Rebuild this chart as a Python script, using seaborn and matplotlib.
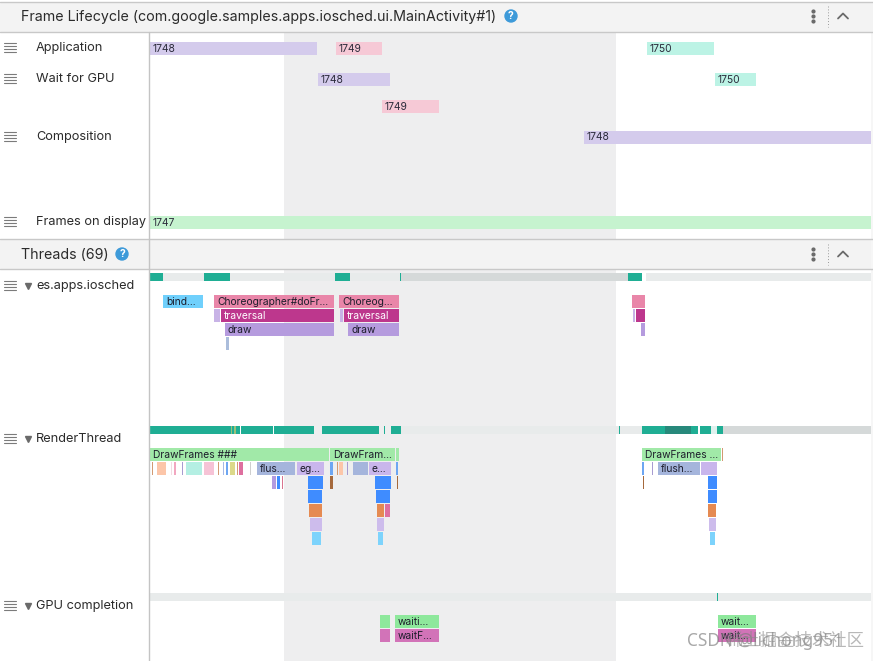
"""
Android Studio profiler style timeline: frame lifecycle and thread slices
"""
import matplotlib
matplotlib.use('Agg')
import matplotlib.pyplot as plt
import pandas as pd
import seaborn as sns
from matplotlib.patches import Circle, Rectangle

# Frame lifecycle
frame_rows = [48.5, 48.5, 48.5, 79.5, 79.5, 106.5, 137, 222.5]
frame_starts = [150, 336, 647, 318, 715, 382, 584, 150]
frame_ends = [317, 382, 714, 390, 756, 439, 871, 871]
frame_ids = ['1748', '1749', '1750', '1748', '1750', '1749', '1748', '1747']
frame_colors = {'1747': '#c6f3cf', '1748': '#d4cbec', '1749': '#f6c9d6', '1750': '#bcf3e5'}

# Thread state strips
main_state_starts = [150, 163, 204, 230, 335, 350, 400, 401, 628, 646]
main_state_ends = [163, 204, 230, 335, 350, 400, 401, 628, 642, 871]
main_state_kinds = ['run', 'sleep', 'run', 'sleep', 'run', 'sleep', 'run', 'idle', 'run', 'sleep']

render_state_starts = [150, 231, 232, 234, 236, 237, 241, 274, 322, 384, 391, 401, 619, 620, 642, 665, 691, 700, 711, 717, 723]
render_state_ends = [231, 232, 234, 236, 237, 240, 273, 314, 379, 385, 401, 619, 620, 642, 665, 691, 698, 711, 717, 723, 871]
render_state_kinds = ['run', 'olive', 'run', 'olive', 'run', 'run', 'run', 'run', 'run', 'run', 'run', 'sleep', 'run',
                      'sleep', 'run', 'dark', 'run', 'run', 'pale', 'run', 'idle']

gpu_state_starts = [150, 717, 718]
gpu_state_ends = [717, 718, 871]
gpu_state_kinds = ['sleep', 'run', 'sleep']

state_colors = {'run': '#1fae94', 'dark': '#27897b', 'olive': '#9cc07a', 'idle': '#d5d9d9',
                'sleep': '#e8ebeb', 'pale': '#dff1ee'}

# Slices for es.apps.iosched
main_depth = [0, 0, 0, 0, 1, 1, 1, 1, 1, 1, 2, 2, 2, 3]
main_starts = [163, 214, 339, 632, 214, 221, 340, 344, 633, 636, 225, 348, 641, 226]
main_ends = [203, 334, 399, 645, 220, 334, 343, 399, 635, 645, 334, 399, 645, 229]
main_labels = ['bind...', 'Choreographer#doFr...', 'Choreog...', '', '', 'traversal', '', 'traversal', '', '',
               'draw', 'draw', '', '']
main_kinds = ['binder', 'choreo', 'choreo', 'choreo', 'lilac', 'traversal', 'lilac', 'traversal', 'lilac', 'traversal',
              'draw', 'draw', 'draw', 'steel']

# Slices for RenderThread
render_depth = [0, 0, 0, 0, 0,
                1, 1, 1, 1, 1, 1, 1, 1, 1, 1, 1, 1, 1, 1, 1, 1, 1, 1, 1, 1, 1, 1, 1, 1, 1, 1, 1,
                2, 2, 2, 2, 2, 2, 2, 2, 2,
                3, 3, 3, 4, 4, 4, 4, 5, 5, 5, 6, 6, 6]
render_starts = [150, 330, 396, 642, 722,
                 152, 157, 171, 174, 182, 186, 204, 218, 223, 226, 230, 237, 239, 250, 257, 297,
                 330, 337, 339, 347, 353, 369, 396, 642, 652, 658, 701,
                 272, 277, 282, 308, 330, 375, 397, 643, 708,
                 308, 376, 708, 309, 377, 385, 708, 310, 377, 709, 312, 378, 710]
render_ends = [329, 395, 399, 721, 723,
               153, 166, 172, 176, 183, 202, 214, 219, 224, 228, 235, 238, 243, 251, 295, 324,
               333, 338, 343, 348, 368, 391, 398, 644, 653, 700, 717,
               276, 280, 283, 323, 333, 391, 398, 644, 717,
               322, 390, 717, 322, 384, 390, 716, 322, 384, 716, 321, 383, 715]
render_labels = ['DrawFrames ###', 'DrawFram...', '', 'DrawFrames ...', '',
                 '', '', '', '', '', '', '', '', '', '', '', '', '', '', 'flus...', 'eg...',
                 '', '', '', '', '', 'e...', '', '', '', 'flush...', '',
                 '', '', '', '', '', '', '', '', '',
                 '', '', '', '', '', '', '', '', '', '', '', '', '']
render_kinds = ['drawframes', 'drawframes', 'drawframes', 'drawframes', 'brown',
                'brown', 'peach', 'lightpink', 'pink', 'mauve', 'aqua', 'rose', 'brown', 'periwinkle', 'blue2', 'khaki',
                'brown', 'magenta', 'gray', 'flush', 'egl',
                'blue2', 'brown', 'peach', 'mauve', 'flush', 'egl', 'blue2', 'blue2', 'mauve', 'flush', 'egl',
                'lilac2', 'blue1', 'rose2', 'blue1', 'brown2', 'blue1', 'brown2', 'brown2', 'blue1',
                'blue1', 'blue1', 'blue1', 'orange', 'orange', 'magenta', 'orange', 'lilac3', 'lilac3', 'lilac3',
                'sky', 'sky', 'sky']

# Slices for GPU completion
gpu_depth = [0, 0, 0, 1, 1, 1]
gpu_starts = [380, 395, 718, 380, 395, 718]
gpu_ends = [390, 439, 756, 390, 439, 756]
gpu_labels = ['', 'waiti...', 'wait...', '', 'waitF...', 'wait...']
gpu_kinds = ['wait', 'wait', 'wait', 'waitf', 'waitf', 'waitf']

slice_colors = {
    'binder': '#70d0fc', 'choreo': '#e986a9', 'lilac': '#c8b3e6', 'traversal': '#bd378d', 'draw': '#b59bde',
    'steel': '#abbddb', 'drawframes': '#a1e9a8', 'brown': '#d29a72', 'peach': '#fcc6a9', 'lightpink': '#f3dbe4',
    'pink': '#f2a7c0', 'mauve': '#a89bd0', 'aqua': '#b4efe3', 'rose': '#f6c3d6', 'periwinkle': '#a7b9e6',
    'blue2': '#6da6f2', 'khaki': '#dcd98a', 'magenta': '#de6f9f', 'gray': '#cfcfcf', 'flush': '#a5b5dc',
    'egl': '#c9b6ec', 'lilac2': '#b39be0', 'blue1': '#3f8cff', 'rose2': '#d9748f', 'brown2': '#a5693c',
    'orange': '#e58a52', 'lilac3': '#cdbcec', 'sky': '#7dd3fc', 'wait': '#8ee89c', 'waitf': '#d273b8',
}

# Track labels
frame_track_labels = ['Application', 'Wait for GPU', 'Composition', 'Frames on display']
frame_track_rows = [47.5, 78.5, 136.5, 221.5]
thread_track_labels = ['es.apps.iosched', 'RenderThread', 'GPU completion']
thread_track_rows = [285, 438, 605]

SLICE_H = 13
UI_FONT = ['Inter', 'DejaVu Sans']


def draw_bar(ax, start, end, center, height, color):
    """One horizontal bar through seaborn."""
    sns.barplot(x=[end - start], y=[center], left=[start], orient='y', native_scale=True, width=height,
                color=color, saturation=1, linewidth=0, errorbar=None, legend=False, ax=ax, zorder=3)


def draw_states(ax, starts, ends, kinds, top):
    for start, end, kind in zip(starts, ends, kinds):
        draw_bar(ax, start, end, top + 4, 8, state_colors[kind])


def draw_slices(ax, depth, starts, ends, labels, kinds, base):
    df = pd.DataFrame({'depth': depth, 'start': starts, 'end': ends, 'label': labels, 'kind': kinds})
    for row in df.itertuples():
        center = base + row.depth * 14 + SLICE_H / 2
        draw_bar(ax, row.start, row.end, center, SLICE_H, slice_colors[row.kind])
        if row.label:
            text_color = 'white' if row.kind == 'traversal' else '#1d1d2b'
            ax.text(row.start + 3, center + 0.5, row.label, color=text_color, fontsize=7.4, va='center', ha='left',
                    family=UI_FONT, zorder=4)


def draw_hamburger(ax, y):
    for offset in [-4.5, -1.5, 1.5, 4.5]:
        ax.plot([4, 16], [y + offset, y + offset], color='#7b7b7b', lw=0.8, zorder=5)


def draw_help(ax, x, y):
    ax.add_patch(Circle((x, y), 6, color='#3d9ad9', zorder=5))
    ax.text(x, y + 0.3, '?', color='white', fontsize=7.5, weight='bold', ha='center', va='center', zorder=6)


def draw_header_icons(ax, y):
    for offset in [-5, 0, 5]:
        ax.plot([813], [y + offset], 'o', ms=2, color='#6a6a6a', zorder=5)
    ax.plot([828, 828], [y - 10, y + 11], color='#9a9a9a', lw=0.7, ls=(0, (1, 2)), zorder=5)
    ax.plot([838, 843, 848], [y + 2.5, y - 2.5, y + 2.5], color='#6a6a6a', lw=1.3, zorder=5)


def main():
    sns.set_theme(style='white')
    plt.rcParams['font.family'] = UI_FONT

    fig = plt.figure(figsize=(8.73, 6.61), dpi=100)
    ax = fig.add_axes([0, 0, 1, 1])

    # Selection band and header strips
    ax.add_patch(Rectangle((284, 32), 332, 207, color='#eeeeef', lw=0, zorder=1))
    ax.add_patch(Rectangle((284, 269), 332, 392, color='#eeeeef', lw=0, zorder=1))
    ax.add_patch(Rectangle((0, 2), 873, 30, color='#f3f3f3', lw=0, zorder=2))
    ax.add_patch(Rectangle((0, 239), 873, 30, color='#f3f3f3', lw=0, zorder=2))
    ax.add_patch(Rectangle((871, 32), 2, 629, color='#f6f6f6', lw=0, zorder=2))
    for y in [1.5, 32, 238.8, 269]:
        ax.plot([0, 873], [y, y], color='#c8c8c8', lw=1.0, zorder=3)
    ax.plot([149, 149], [32, 661], color='#c4c4c4', lw=1.0, zorder=5)

    ax.text(21, 17, 'Frame Lifecycle (com.google.samples.apps.iosched.ui.MainActivity#1)', fontsize=10.25,
            color='#2b2b2b', va='center', zorder=5)
    ax.text(21, 255, 'Threads (69)', fontsize=10.25, color='#2b2b2b', va='center', zorder=5)
    draw_help(ax, 511, 16)
    draw_help(ax, 122, 254)
    draw_header_icons(ax, 16)
    draw_header_icons(ax, 254)

    # Frame lifecycle bars
    for row, start, end, frame in zip(frame_rows, frame_starts, frame_ends, frame_ids):
        draw_bar(ax, start, end, row, SLICE_H, frame_colors[frame])
        ax.text(start + 3, row + 0.5, frame, fontsize=7.4, color='#2a2a3a', va='center', zorder=4)

    for label, y in zip(frame_track_labels, frame_track_rows):
        draw_hamburger(ax, y)
        ax.text(36, y + 0.5, label, fontsize=9.2, color='#2b2b2b', va='center', zorder=5)

    for label, y in zip(thread_track_labels, thread_track_rows):
        draw_hamburger(ax, y)
        ax.plot([28], [y + 0.5], marker='v', ms=5, color='#6a6a6a', zorder=5)
        ax.text(36, y + 0.5, label, fontsize=9.2, color='#2b2b2b', va='center', zorder=5)

    # Threads
    draw_states(ax, main_state_starts, main_state_ends, main_state_kinds, 273)
    draw_states(ax, render_state_starts, render_state_ends, render_state_kinds, 426)
    draw_states(ax, gpu_state_starts, gpu_state_ends, gpu_state_kinds, 593)

    draw_slices(ax, main_depth, main_starts, main_ends, main_labels, main_kinds, 295)
    draw_slices(ax, render_depth, render_starts, render_ends, render_labels, render_kinds, 448)
    draw_slices(ax, gpu_depth, gpu_starts, gpu_ends, gpu_labels, gpu_kinds, 615)

    # Overlapping watermarks, they sit on top of each other in the screenshot too
    ax.text(687, 641, 'CSDN @lichong951', fontsize=12.5, color='#7a7a7a', alpha=0.65, va='center', zorder=7,
            family=['Noto Sans', 'DejaVu Sans'])
    ax.text(726, 641, '稀土掘金技术社区', fontsize=12.5, color='#8a8a8a', alpha=0.6, va='center', zorder=7,
            family=['Noto Sans CJK SC', 'DejaVu Sans'])

    ax.set_xlim(0, 873)
    ax.set_ylim(661, 0)
    ax.set_xlabel('')
    ax.set_ylabel('')
    ax.axis('off')
    fig.savefig('out.png', dpi=100, facecolor='white')
    plt.close(fig)


if __name__ == "__main__":
    main()
